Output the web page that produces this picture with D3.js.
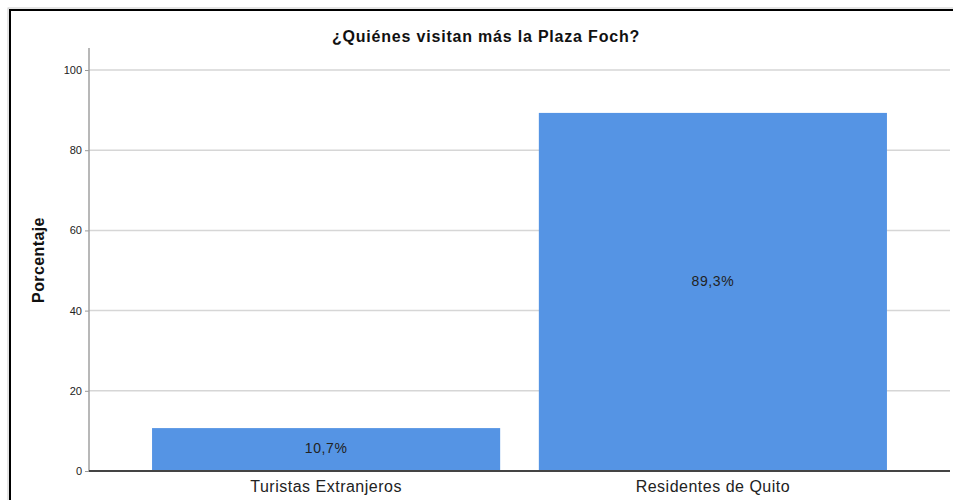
<!DOCTYPE html>
<html>
<head>
<meta charset="utf-8">
<script src="https://cdn.jsdelivr.net/npm/d3@7"></script>
<style>
  html, body { margin: 0; padding: 0; background: #fff; }
  svg { display: block; font-family: "Liberation Sans", Arial, sans-serif; }
</style>
</head>
<body>
<script>
const title = "¿Quiénes visitan más la Plaza Foch?";
const yLabel = "Porcentaje";
const categories = ["Turistas Extranjeros", "Residentes de Quito"];
const values = [10.7, 89.3];
const valueLabels = ["10,7%", "89,3%"];
const yTicks = [0, 20, 40, 60, 80, 100];

(function () {
const W = 953, H = 500;
const svg = d3.select("body").append("svg").attr("width", W).attr("height", H);

// outer frame
svg.append("rect").attr("x", 8).attr("y", 8).attr("width", W + 10).attr("height", H + 10)
  .attr("fill", "none").attr("stroke", "#ccc").attr("stroke-width", 1);
svg.append("rect").attr("x", 10).attr("y", 10).attr("width", W + 10).attr("height", H + 10)
  .attr("fill", "none").attr("stroke", "#000").attr("stroke-width", 2);

const pLeft = 89, pRight = 950, pTop = 48, pBottom = 471;
const y = d3.scaleLinear().domain([0, 100]).range([pBottom, 70]);
const x = d3.scaleBand().domain(categories).range([pLeft, pRight]).paddingInner(0.1).paddingOuter(0.163);

// gridlines
svg.append("g").selectAll("line").data(yTicks.filter(d => d > 0)).join("line")
  .attr("x1", pLeft).attr("x2", pRight)
  .attr("y1", d => y(d)).attr("y2", d => y(d))
  .attr("stroke", "#d6d6d6").attr("stroke-width", 1.5);

// bars
svg.append("g").selectAll("rect").data(values).join("rect")
  .attr("x", (d, i) => x(categories[i]))
  .attr("width", x.bandwidth())
  .attr("y", d => y(d))
  .attr("height", d => y(0) - y(d))
  .attr("fill", "#5594e4");

// value labels
svg.append("g").selectAll("text").data(values).join("text")
  .attr("x", (d, i) => x(categories[i]) + x.bandwidth() / 2)
  .attr("y", d => y(d * 0.53) + 5)
  .attr("text-anchor", "middle")
  .attr("font-size", 14)
  .attr("letter-spacing", 0.6)
  .attr("fill", "#222")
  .text((d, i) => valueLabels[i]);

// y axis
const yAxis = d3.axisLeft(y).tickValues(yTicks).tickSize(4).tickPadding(3);
const gy = svg.append("g").attr("transform", `translate(${pLeft},0)`).call(yAxis);
gy.select(".domain").remove();
gy.selectAll(".tick line").attr("stroke", "#999");
gy.selectAll(".tick text").attr("font-size", 11).attr("fill", "#222")
  .attr("font-family", "Liberation Sans, Arial, sans-serif");
svg.append("line").attr("x1", pLeft).attr("x2", pLeft).attr("y1", pTop).attr("y2", pBottom)
  .attr("stroke", "#a0a0a0").attr("stroke-width", 1.5);

// x axis
const xAxis = d3.axisBottom(x).tickSize(0).tickPadding(10);
const gx = svg.append("g").attr("transform", `translate(0,${pBottom})`).call(xAxis);
gx.select(".domain").remove();
gx.selectAll(".tick text").attr("font-size", 16).attr("letter-spacing", 0.5).attr("fill", "#222")
  .attr("font-family", "Liberation Sans, Arial, sans-serif");
svg.append("line").attr("x1", pLeft).attr("x2", pRight).attr("y1", pBottom).attr("y2", pBottom)
  .attr("stroke", "#444").attr("stroke-width", 2);

// title
svg.append("text").attr("x", 486).attr("y", 42).attr("text-anchor", "middle")
  .attr("font-size", 16).attr("letter-spacing", 0.8).attr("font-weight", "bold").attr("fill", "#111").text(title);

// y label
svg.append("text").attr("transform", `translate(44,260) rotate(-90)`)
  .attr("text-anchor", "middle").attr("font-size", 16).attr("letter-spacing", 0.4).attr("font-weight", "bold")
  .attr("fill", "#111").text(yLabel);
})();
</script>
</body>
</html>
